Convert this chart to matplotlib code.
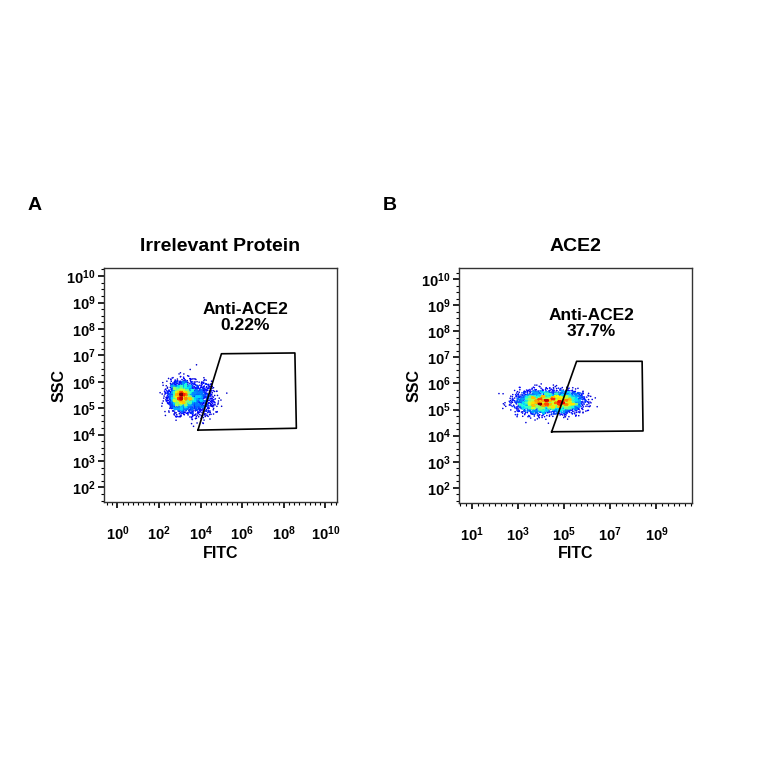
import numpy as np
import matplotlib
matplotlib.use("Agg")
import matplotlib.pyplot as plt
from matplotlib.ticker import MultipleLocator

plt.rcParams['font.family'] = ['Liberation Sans', 'DejaVu Sans']
plt.rcParams['mathtext.fontset'] = 'custom'
plt.rcParams['mathtext.rm'] = 'Liberation Sans:bold'
plt.rcParams['mathtext.it'] = 'Liberation Sans:bold'
plt.rcParams['mathtext.bf'] = 'Liberation Sans:bold'

# Panel data (log10 units)
titles = ["Irrelevant Protein", "ACE2"]
letters = ["A", "B"]
gate_label = "Anti-ACE2"
gate_pct = ["0.22%", "37.7%"]
xlims = [(-0.65, 10.55), (0.45, 10.55)]
ylims = [(1.45, 10.3), (1.43, 10.42)]
xticks = [[0, 2, 4, 6, 8, 10], [1, 3, 5, 7, 9]]
yticks = [[2, 3, 4, 5, 6, 7, 8, 9, 10], [2, 3, 4, 5, 6, 7, 8, 9, 10]]
gate_x = [[3.87, 5.0, 8.53, 8.6], [4.46, 5.54, 8.38, 8.42]]
gate_y = [[4.17, 7.06, 7.09, 4.24], [4.15, 6.85, 6.85, 4.18]]
label_pos = [(6.16, 7.85), (6.19, 7.7)]
# populations: (x center, y center, x sd, y sd, count)
populations = [
    [(3.05, 5.45, 0.3, 0.27, 2200), (3.9, 5.35, 0.38, 0.32, 900)],
    [(4.0, 5.28, 0.55, 0.22, 2200), (5.1, 5.3, 0.38, 0.21, 1200)],
]

fig = plt.figure(figsize=(7.64, 7.64), dpi=100)
axpos = [[0.136, 0.343, 0.305, 0.306], [0.601, 0.342, 0.305, 0.307]]
rng = np.random.default_rng(3)
for i in range(2):
    ax = fig.add_axes(axpos[i])
    xs, ys = [], []
    for (cx, cy, sx, sy, n) in populations[i]:
        xs.append(rng.normal(cx, sx, n)); ys.append(rng.normal(cy, sy, n))
    x = np.concatenate(xs); y = np.concatenate(ys)
    nb = 30
    H, xe, ye = np.histogram2d(x, y, bins=nb)
    ix = np.clip(np.digitize(x, xe) - 1, 0, nb - 1); iy = np.clip(np.digitize(y, ye) - 1, 0, nb - 1)
    d = H[ix, iy] / H.max()
    o = np.argsort(d)
    ax.scatter(x[o], y[o], c=d[o], cmap='jet', vmin=-0.05, vmax=1.0, s=1.3, linewidths=0)
    gx = gate_x[i] + [gate_x[i][0]]; gy = gate_y[i] + [gate_y[i][0]]
    ax.plot(gx, gy, color='black', lw=1.2)
    ax.text(label_pos[i][0], label_pos[i][1], gate_label + "\n" + gate_pct[i], ha='center',
            va='bottom', fontsize=12.5, fontweight='bold', linespacing=1.1)
    ax.set_xlim(*xlims[i]); ax.set_ylim(*ylims[i])
    ax.set_xticks(xticks[i]); ax.set_yticks(yticks[i])
    ax.set_xticklabels([r'$10^{%d}$' % v for v in xticks[i]])
    ax.set_yticklabels([r'$10^{%d}$' % v for v in yticks[i]])
    ax.xaxis.set_minor_locator(MultipleLocator(0.25))
    ax.yaxis.set_minor_locator(MultipleLocator(0.25))
    ax.tick_params(labelsize=10.5, length=4, width=1.2, pad=12)
    ax.tick_params(axis='y', pad=2)
    ax.tick_params(which='minor', length=2, width=0.8)
    for s in ax.spines.values():
        s.set_linewidth(1.0); s.set_color('#333333')
    ax.set_xlabel("FITC", fontsize=11.5, fontweight='bold', labelpad=2)
    ax.set_ylabel("SSC", fontsize=11.5, fontweight='bold', labelpad=0)
    ax.set_title(titles[i], fontsize=14, fontweight='bold', pad=12)
    fig.text(axpos[i][0] - 0.1, 0.725, letters[i], fontsize=14, fontweight='bold')

fig.savefig("out.png", dpi=100)
